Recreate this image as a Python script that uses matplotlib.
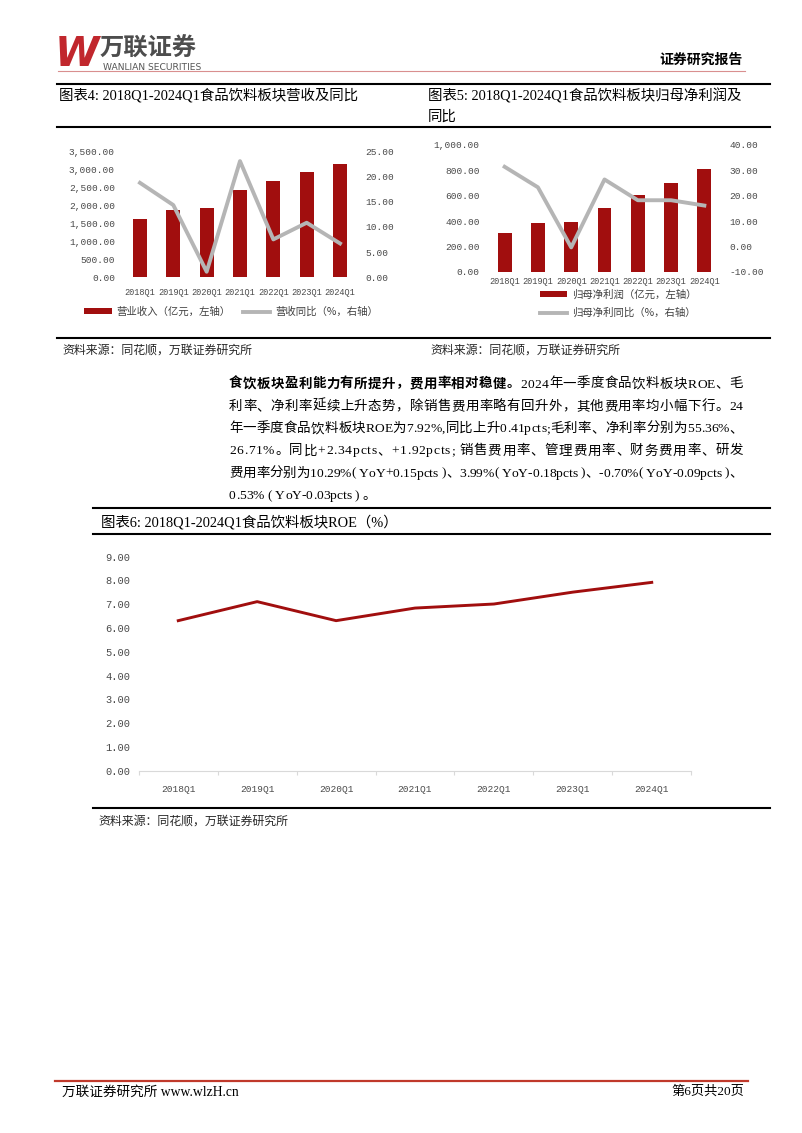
import matplotlib
matplotlib.use("Agg")
import matplotlib.pyplot as plt
from matplotlib.lines import Line2D
from matplotlib.ticker import FuncFormatter

W, H = 802, 1133

# ---- data ----
quarters = ["2018Q1", "2019Q1", "2020Q1", "2021Q1", "2022Q1", "2023Q1", "2024Q1"]
revenue = [1607, 1856, 1921, 2410, 2678, 2918, 3131]          # 亿元
revenue_yoy = [18.7, 14.3, 1.1, 23.0, 7.5, 10.8, 6.7]         # %
profit = [308, 384, 389, 500, 603, 700, 813]                  # 亿元
profit_yoy = [31.4, 23.3, -0.4, 26.4, 18.2, 18.2, 16.1]       # %
roe = [6.31, 7.11, 6.31, 6.84, 7.01, 7.51, 7.92]              # %

RED = "#A10E0E"
GRAY_LINE = "#B5B5B5"
TICK_C = "#4A4A4A"
SERIF = ["Liberation Serif", "Noto Sans CJK SC"]
SANS = ["Noto Sans CJK SC", "DejaVu Sans"]
MONO = "Liberation Mono"

plt.rcParams["font.family"] = SANS

fig = plt.figure(figsize=(W / 100, H / 100), dpi=100)


def fx(x):
    return x / W


def fy(y):
    return 1 - y / H


def add_axes_px(x0, y0, x1, y1):
    return fig.add_axes([fx(x0), fy(y1), (x1 - x0) / W, (y1 - y0) / H])


def hline(x0, x1, y, color="black", lw=1.5):
    fig.add_artist(Line2D([fx(x0), fx(x1)], [fy(y), fy(y)], color=color, lw=lw))


def put(x, y, s, size, ha="left", va="center", **kw):
    return fig.text(fx(x), fy(y), s, fontsize=size, ha=ha, va=va, **kw)


fmt = FuncFormatter(lambda v, p: f"{v:,.2f}")
x = list(range(len(quarters)))


def style_dual(ax, axr, xpad):
    for a in (ax, axr):
        for sp in a.spines.values():
            sp.set_visible(False)
        a.yaxis.set_major_formatter(fmt)
        a.tick_params(length=0, labelsize=6.8, labelcolor=TICK_C,
                      labelfontfamily=MONO, pad=6)
    ax.set_xlim(-0.5, 6.5)
    ax.set_xticks(x, quarters)
    ax.tick_params(axis="x", labelsize=6.2, pad=xpad)


# ================================
# header
# ================================
put(55, 55, "W", 29, color="#C1272D", fontweight="heavy", style="italic",
    family="DejaVu Sans")
put(100, 48.5, "万联证券", 17.5, color="#4D4D4D", fontweight="bold", family=SANS)
put(103, 66.5, "WANLIAN SECURITIES", 6.6, color="#555555", family="DejaVu Sans",
    va="center_baseline")
hline(58, 745, 70.5, color="#D98F8F", lw=0.8)
put(743, 60, "证券研究报告", 10, ha="right", fontweight="bold", family=SANS)

hline(57, 770, 83.5)
hline(57, 770, 127)
put(59, 95.5, "图表4: 2018Q1-2024Q1食品饮料板块营收及同比", 10.4, family=SERIF)
put(428, 95.5, "图表5: 2018Q1-2024Q1食品饮料板块归母净利润及", 10.4, family=SERIF)
put(428, 117, "同比", 10.4, family=SERIF)

# ================================
# 图表4
# ================================
ax4 = add_axes_px(123.3, 151, 356.7, 277.3)
bars4 = ax4.bar(x, revenue, width=0.42, color=RED)
ax4.set_ylim(0, 3500)
ax4.set_yticks(range(0, 3501, 500))
ax4r = ax4.twinx()
line4, = ax4r.plot(x, revenue_yoy, color=GRAY_LINE, lw=2.8)
ax4r.set_ylim(0, 25)
ax4r.set_yticks(range(0, 26, 5))
style_dual(ax4, ax4r, 8)
ax4.legend([bars4, line4], ["营业收入（亿元，左轴）", "营收同比（%，右轴）"],
           loc="center", bbox_to_anchor=(fx(231.5), fy(312)),
           bbox_transform=fig.transFigure, ncol=2, frameon=False,
           fontsize=7.5, handlelength=2.6, handleheight=0.5,
           handletextpad=0.5, columnspacing=1.2, borderpad=0,
           labelcolor="#404040")

# ================================
# 图表5
# ================================
ax5 = add_axes_px(488, 145, 721, 271.7)
bars5 = ax5.bar(x, profit, width=0.42, color=RED)
ax5.set_ylim(0, 1000)
ax5.set_yticks(range(0, 1001, 200))
ax5r = ax5.twinx()
line5, = ax5r.plot(x, profit_yoy, color=GRAY_LINE, lw=2.8)
ax5r.set_ylim(-10, 40)
ax5r.set_yticks(range(-10, 41, 10))
style_dual(ax5, ax5r, 4)
ax5.legend([bars5, line5], ["归母净利润（亿元，左轴）", "归母净利同比（%，右轴）"],
           loc="center left", bbox_to_anchor=(fx(535), fy(304)),
           bbox_transform=fig.transFigure, ncol=1, frameon=False,
           fontsize=7.5, handlelength=2.6, handleheight=0.5,
           handletextpad=0.5, labelspacing=0.75, borderpad=0,
           labelcolor="#404040")

hline(57, 770, 338.5)
src = "资料来源：同花顺，万联证券研究所"
put(62, 350, src, 8.6, family=SANS, color="#262626")
put(430, 350, src, 8.6, family=SANS, color="#262626")

# ================================
# 正文 (两端对齐)
# ================================
BODY_FS = 9.7
renderer = fig.canvas.get_renderer()
_adv = {}


def text_w(s, weight):
    t = fig.text(0, 0, s, fontsize=BODY_FS, fontweight=weight, family=SERIF)
    v = t.get_window_extent(renderer).width
    t.remove()
    return v


def advance(ch, weight):
    key = (ch, weight)
    if key not in _adv:
        _adv[key] = text_w("X" + ch + "X", weight) - text_w("XX", weight)
    return _adv[key]


def body_line(y, segments, justify=True, x0=229, x1=743):
    chars = [(c, wt) for s, wt in segments for c in s]
    total = sum(advance(c, wt) for c, wt in chars)
    gap = (x1 - x0 - total) / (len(chars) - 1) if justify else 0
    xp = x0
    for c, wt in chars:
        if c != " ":
            put(xp, y + 5, c, BODY_FS, va="baseline", fontweight=wt, family=SERIF)
        xp += advance(c, wt) + gap


para = [
    [("食饮板块盈利能力有所提升，费用率相对稳健。", "bold"),
     ("2024年一季度食品饮料板块ROE、毛", "normal")],
    [("利率、净利率延续上升态势，除销售费用率略有回升外，其他费用率均小幅下行。24", "normal")],
    [("年一季度食品饮料板块ROE为7.92%,同比上升0.41pcts;毛利率、净利率分别为55.36%、", "normal")],
    [("26.71%。同比+2.34pcts、+1.92pcts; 销售费用率、管理费用率、财务费用率、研发", "normal")],
    [("费用率分别为10.29%( YoY+0.15pcts )、3.99%( YoY-0.18pcts )、-0.70%( YoY-0.09pcts )、", "normal")],
    [("0.53% ( YoY-0.03pcts ) 。", "normal")],
]
for i, segs in enumerate(para):
    body_line(382.5 + 22.3 * i, segs, justify=(i < len(para) - 1))

# ================================
# 图表6
# ================================
hline(93, 770, 508)
hline(93, 770, 534)
put(101, 522, "图表6: 2018Q1-2024Q1食品饮料板块ROE（%）", 10.4, family=SERIF)

ax6 = add_axes_px(138.8, 556.7, 691.2, 770.7)
ax6.plot(x, roe, color=RED, lw=2.1)
ax6.set_xlim(-0.5, 6.5)
ax6.set_ylim(0, 9)
ax6.set_yticks(range(0, 10))
ax6.yaxis.set_major_formatter(fmt)
ax6.set_xticks([i - 0.5 for i in range(len(quarters) + 1)])
ax6.set_xticklabels([])
ax6.set_xticks(x, minor=True)
ax6.set_xticklabels(quarters, minor=True)
for side in ("top", "right", "left"):
    ax6.spines[side].set_visible(False)
ax6.spines["bottom"].set_color("#D9D9D9")
ax6.tick_params(axis="x", which="major", length=3, color="#D9D9D9")
ax6.tick_params(axis="x", which="minor", length=0, pad=10, labelsize=6.8,
                labelcolor=TICK_C, labelfontfamily=MONO)
ax6.tick_params(axis="y", length=0, pad=6, labelsize=7.5,
                labelcolor=TICK_C, labelfontfamily=MONO)

hline(93, 770, 808)
put(98, 821, src, 8.6, family=SANS, color="#262626")

# ================================
# footer
# ================================
hline(55, 748, 1081, color="#C0392B", lw=1.6)
put(62, 1092, "万联证券研究所 www.wlzH.cn", 9.8, family=SERIF)
put(744, 1092, "第6页共20页", 9.5, ha="right", family=SERIF)

fig.savefig("out.png", dpi=100, facecolor="white")
plt.close()
